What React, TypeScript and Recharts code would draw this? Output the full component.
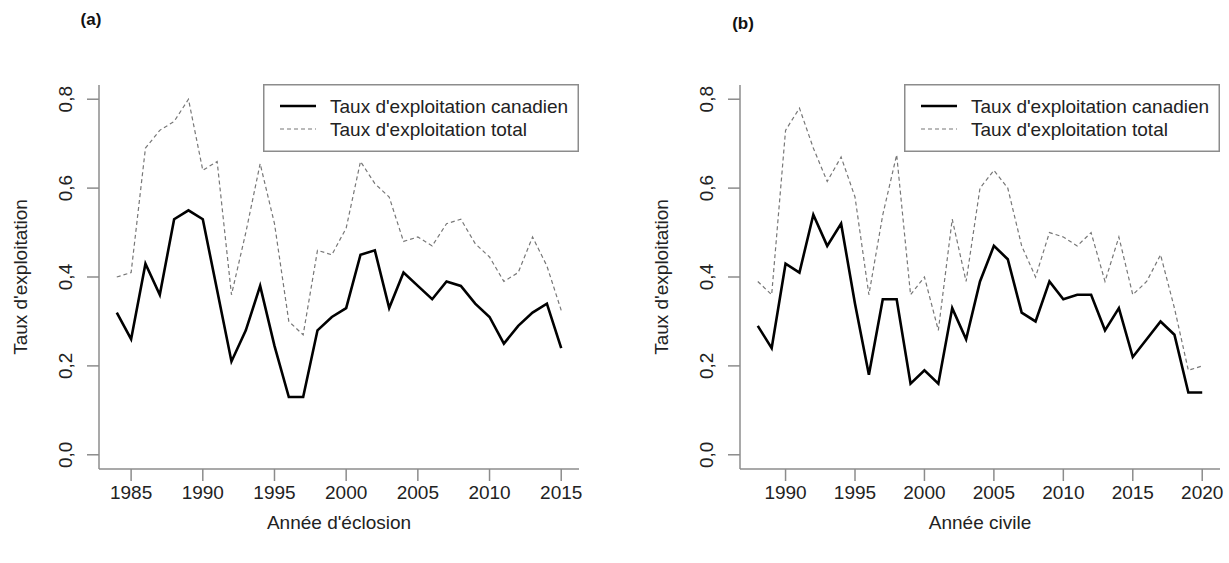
import React from 'react';
import { LineChart, Line, XAxis, YAxis, Legend } from 'recharts';

// ---------- data ----------
const yearsA = [1984, 1985, 1986, 1987, 1988, 1989, 1990, 1991, 1992, 1993, 1994, 1995, 1996, 1997, 1998, 1999, 2000, 2001, 2002, 2003, 2004, 2005, 2006, 2007, 2008, 2009, 2010, 2011, 2012, 2013, 2014, 2015];
const canadienA = [0.32, 0.26, 0.43, 0.36, 0.53, 0.55, 0.53, 0.37, 0.21, 0.28, 0.38, 0.245, 0.13, 0.13, 0.28, 0.31, 0.33, 0.45, 0.46, 0.33, 0.41, 0.38, 0.35, 0.39, 0.38, 0.34, 0.31, 0.25, 0.29, 0.32, 0.34, 0.24];
const totalA = [0.40, 0.41, 0.69, 0.73, 0.75, 0.80, 0.64, 0.66, 0.36, 0.50, 0.655, 0.52, 0.30, 0.27, 0.46, 0.45, 0.51, 0.66, 0.61, 0.58, 0.48, 0.49, 0.47, 0.52, 0.53, 0.475, 0.445, 0.39, 0.41, 0.49, 0.425, 0.325];

const yearsB = [1988, 1989, 1990, 1991, 1992, 1993, 1994, 1995, 1996, 1997, 1998, 1999, 2000, 2001, 2002, 2003, 2004, 2005, 2006, 2007, 2008, 2009, 2010, 2011, 2012, 2013, 2014, 2015, 2016, 2017, 2018, 2019, 2020];
const canadienB = [0.29, 0.24, 0.43, 0.41, 0.54, 0.47, 0.52, 0.34, 0.18, 0.35, 0.35, 0.16, 0.19, 0.16, 0.33, 0.26, 0.39, 0.47, 0.44, 0.32, 0.30, 0.39, 0.35, 0.36, 0.36, 0.28, 0.33, 0.22, 0.26, 0.30, 0.27, 0.14, 0.14];
const totalB = [0.39, 0.36, 0.73, 0.78, 0.69, 0.615, 0.67, 0.58, 0.36, 0.54, 0.675, 0.36, 0.40, 0.28, 0.53, 0.39, 0.60, 0.64, 0.60, 0.47, 0.40, 0.50, 0.49, 0.47, 0.50, 0.39, 0.49, 0.36, 0.39, 0.45, 0.33, 0.19, 0.20];

const xTicksA = [1985, 1990, 1995, 2000, 2005, 2010, 2015];
const xTicksB = [1990, 1995, 2000, 2005, 2010, 2015, 2020];
const yTicks = [0, 0.2, 0.4, 0.6, 0.8];

const labelCanadien = "Taux d'exploitation canadien";
const labelTotal = "Taux d'exploitation total";
const yTitle = "Taux d'exploitation";
const xTitleA = "Année d'éclosion";
const xTitleB = 'Année civile';

// ---------- styles ----------
const FONT = '"Liberation Sans", Arial, Helvetica, sans-serif';
const FS = 19;
const AXIS = '#8c8c8c';
const TXT = '#222';

const fmt = (v: number) => v.toFixed(1).replace('.', ',');

const YTick = (props: any) => {
  const { x, y, payload } = props;
  return (
    <text
      transform={`translate(${x - 13},${y}) rotate(-90)`}
      textAnchor="middle"
      fontFamily={FONT}
      fontSize={FS}
      fill={TXT}
    >
      {fmt(payload.value)}
    </text>
  );
};

const XTick = (props: any) => {
  const { x, y, payload } = props;
  return (
    <text x={x} y={y + 16} textAnchor="middle" fontFamily={FONT} fontSize={FS} fill={TXT}>
      {payload.value}
    </text>
  );
};

const LegendBox = () => (
  <svg width={316} height={68} style={{ display: 'block' }}>
    <rect x={0.75} y={0.75} width={314.5} height={66.5} fill="#fff" stroke={AXIS} strokeWidth={1.5} />
    <line x1={17} x2={53} y1={22} y2={22} stroke="#000" strokeWidth={2.6} />
    <line x1={17} x2={53} y1={45} y2={45} stroke="#777" strokeWidth={1.2} strokeDasharray="4 3" />
    <text x={67} y={28.5} fontFamily={FONT} fontSize={FS} fill={TXT}>{labelCanadien}</text>
    <text x={67} y={51.5} fontFamily={FONT} fontSize={FS} fill={TXT}>{labelTotal}</text>
  </svg>
);

type PanelProps = {
  left: number;
  width: number;
  marginLeft: number;
  marginRight: number;
  years: number[];
  can: number[];
  tot: number[];
  domain: [number, number];
  xTicks: number[];
  legendLeft: number;
};

const Panel = (p: PanelProps) => {
  const data = p.years.map((yr, i) => ({ year: yr, can: p.can[i], tot: p.tot[i] }));
  return (
    <div style={{ position: 'absolute', left: p.left, top: 0 }}>
      <LineChart
        width={p.width}
        height={563}
        data={data}
        margin={{ top: 85, right: p.marginRight, bottom: 54, left: p.marginLeft }}
      >
        <XAxis
          dataKey="year"
          type="number"
          domain={p.domain}
          ticks={p.xTicks}
          allowDataOverflow
          height={40}
          stroke={AXIS}
          strokeWidth={1.5}
          tickSize={12}
          tickMargin={2}
          tick={<XTick />}
          axisLine={{ stroke: AXIS, strokeWidth: 1.5 }}
          tickLine={{ stroke: AXIS, strokeWidth: 1.5 }}
        />
        <YAxis
          type="number"
          domain={[-0.032, 0.832]}
          ticks={yTicks}
          allowDataOverflow
          width={40}
          tickSize={12}
          tickMargin={2}
          tick={<YTick />}
          axisLine={{ stroke: AXIS, strokeWidth: 1.5 }}
          tickLine={{ stroke: AXIS, strokeWidth: 1.5 }}
        />
        <Legend
          layout="vertical"
          align="center"
          verticalAlign="middle"
          content={<LegendBox />}
          wrapperStyle={{ left: p.legendLeft, top: 84, width: 316, height: 68 }}
        />
        <Line
          dataKey="tot"
          type="linear"
          stroke="#777"
          strokeWidth={1.2}
          strokeDasharray="4 3"
          dot={false}
          activeDot={false}
          isAnimationActive={false}
        />
        <Line
          dataKey="can"
          type="linear"
          stroke="#000"
          strokeWidth={2.6}
          dot={false}
          activeDot={false}
          isAnimationActive={false}
        />
      </LineChart>
    </div>
  );
};

export default function App() {
  return (
    <div style={{ position: 'absolute', left: 0, top: 0, width: 1229, height: 563, background: '#fff', overflow: 'hidden' }}>
      <Panel
        left={0}
        width={614}
        marginLeft={59}
        marginRight={35}
        years={yearsA}
        can={canadienA}
        tot={totalA}
        domain={[1982.76, 2016.24]}
        xTicks={xTicksA}
        legendLeft={263}
      />
      <Panel
        left={614}
        width={615}
        marginLeft={86}
        marginRight={9}
        years={yearsB}
        can={canadienB}
        tot={totalB}
        domain={[1986.72, 2021.28]}
        xTicks={xTicksB}
        legendLeft={290}
      />
      <svg width={1229} height={563} style={{ position: 'absolute', left: 0, top: 0, pointerEvents: 'none' }}>
        <text x={91} y={25} textAnchor="middle" fontFamily={FONT} fontSize={17} fontWeight="bold" fill="#111">(a)</text>
        <text x={743} y={29} textAnchor="middle" fontFamily={FONT} fontSize={17} fontWeight="bold" fill="#111">(b)</text>
        <text transform="translate(27,277) rotate(-90)" textAnchor="middle" fontFamily={FONT} fontSize={FS} fill={TXT}>{yTitle}</text>
        <text transform="translate(668,277) rotate(-90)" textAnchor="middle" fontFamily={FONT} fontSize={FS} fill={TXT}>{yTitle}</text>
        <text x={339} y={529} textAnchor="middle" fontFamily={FONT} fontSize={FS} fill={TXT}>{xTitleA}</text>
        <text x={980} y={529} textAnchor="middle" fontFamily={FONT} fontSize={FS} fill={TXT}>{xTitleB}</text>
      </svg>
    </div>
  );
}
